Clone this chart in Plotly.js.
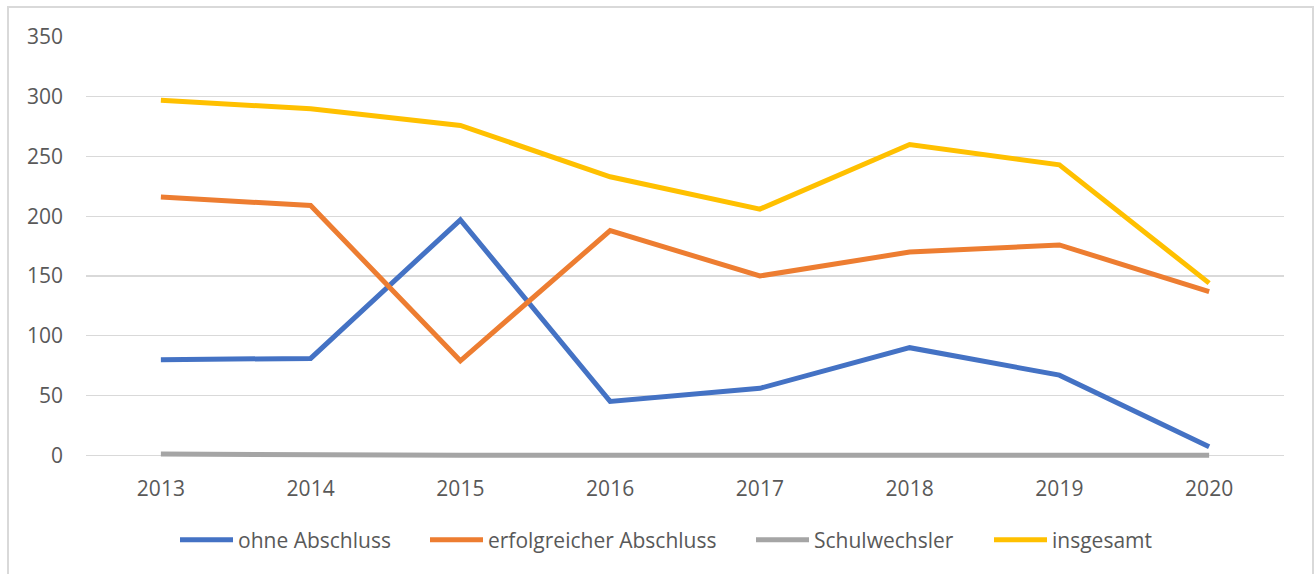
<!DOCTYPE html>
<html><head><meta charset="utf-8">
<script src="https://cdn.plot.ly/plotly-3.0.1.min.js"></script>
<style>html,body{margin:0;padding:0;background:#fff}#chart{width:1316px;height:574px}</style>
</head><body><div id="chart"></div>
<script>
var years = ['2013','2014','2015','2016','2017','2018','2019','2020'];
var ohneAbschluss = [80, 81, 197, 45, 56, 90, 67, 7];
var erfolgreicherAbschluss = [216, 209, 79, 188, 150, 170, 176, 137];
var schulwechsler = [1, 0, 0, 0, 0, 0, 0, 0];
var insgesamt = [297, 290, 276, 233, 206, 260, 243, 144];
var seriesNames = ['ohne Abschluss', 'erfolgreicher Abschluss', 'Schulwechsler', 'insgesamt'];
var colors = ['#4472C4', '#ED7D31', '#A5A5A5', '#FFC000'];
var values = [ohneAbschluss, erfolgreicherAbschluss, schulwechsler, insgesamt];
var legendIds = ['legend', 'legend2', 'legend3', 'legend4'];
var legendTextX = [238, 488, 814, 1052];

var traces = values.map(function(v, i){
  return {x: years, y: v, name: seriesNames[i], type: 'scatter', mode: 'lines',
          line: {color: colors[i], width: 5}, legend: legendIds[i]};
});

var plotH = 354 * 418 / 350;
var bottomPx = 37 + plotH;
var layout = {
  width: 1316, height: 574,
  margin: {l: 86, r: 32, t: 37, b: 574 - bottomPx},
  paper_bgcolor: '#fff', plot_bgcolor: '#fff',
  font: {family: 'Open Sans, sans-serif', color: '#595959', size: 21},
  xaxis: {type: 'category', range: [-0.5, 7.5], showgrid: false, zeroline: false,
          showline: false, ticks: '', tickfont: {size: 21, color: '#595959'}, ticklabelstandoff: 14},
  yaxis: {range: [-4, 350], tickvals: [0, 50, 100, 150, 200, 250, 300, 350], showgrid: true, gridcolor: '#D9D9D9', gridwidth: 1.3,
          zeroline: false, showline: false, ticks: '', tickfont: {size: 21, color: '#595959'},
          ticklabelstandoff: 22},
  showlegend: true,
  shapes: [{type: 'rect', xref: 'paper', yref: 'paper', layer: 'below',
            x0: (8-86)/1198, x1: (1313-86)/1198, y0: -0.5, y1: (bottomPx-7)/plotH,
            line: {color: '#D9D9D9', width: 2}, fillcolor: 'rgba(0,0,0,0)'}]
};
legendIds.forEach(function(id, i){
  layout[id] = {orientation: 'h', xref: 'container', yref: 'container',
                x: (legendTextX[i] - 63) / 1316, xanchor: 'left',
                y: 1 - 540/574, yanchor: 'middle', itemwidth: 53,
                font: {size: 21, color: '#595959'}, bgcolor: 'rgba(0,0,0,0)'};
});
Plotly.newPlot('chart', traces, layout, {displayModeBar: false, staticPlot: true});
</script></body></html>
